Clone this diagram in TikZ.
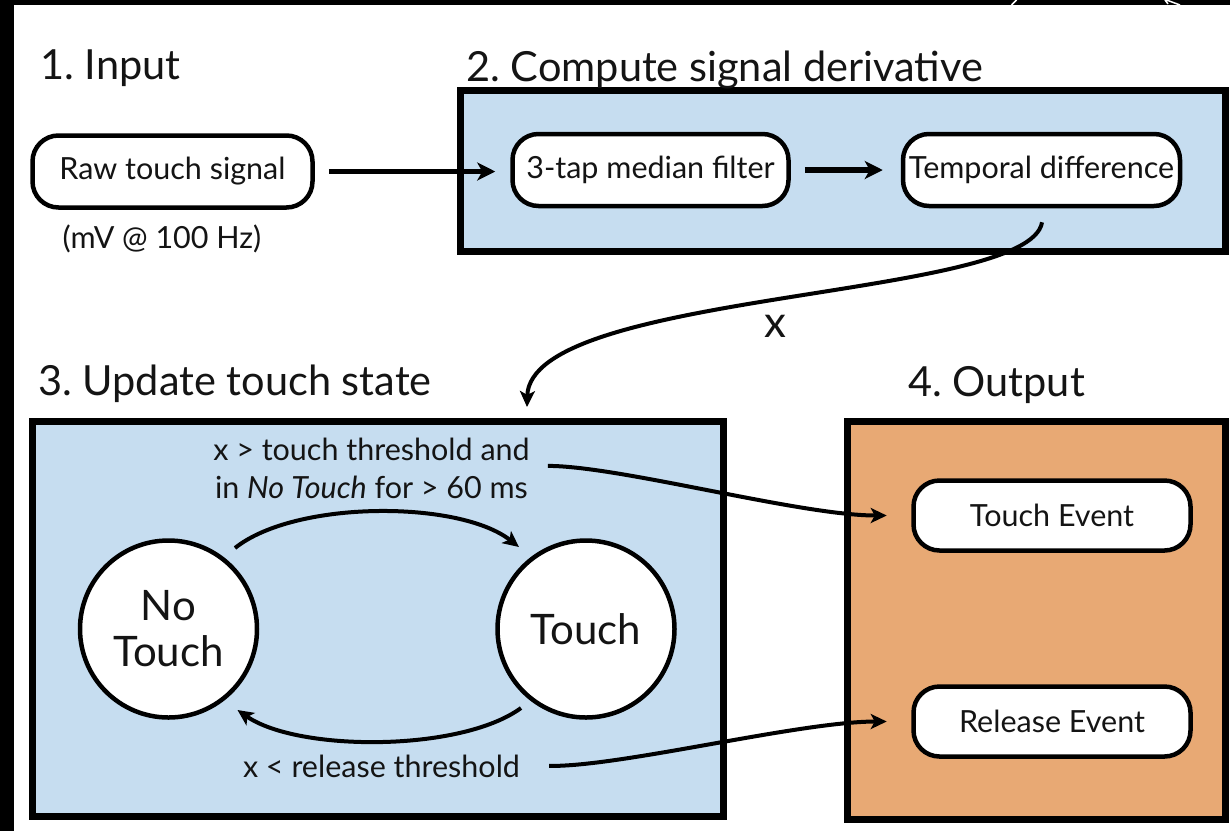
\documentclass[tikz,border=0pt]{standalone}
\usepackage{fontspec}
\setmainfont{Lato}
\frenchspacing
\usetikzlibrary{arrows.meta,calc}
\definecolor{paleblue}{RGB}{198,221,240}
\definecolor{paleorange}{RGB}{232,169,116}
\definecolor{ink}{RGB}{20,20,20}
\begin{document}
\begin{tikzpicture}[x=1pt,y=-1pt,
  panel/.style={draw=black, line width=7pt},
  proc/.style={draw=black, line width=4.5pt, rounded corners=26pt, fill=white,
    inner sep=0pt, minimum height=72pt, text=ink, font=\fontsize{30.5}{36}\selectfont},
  title/.style={anchor=base west, inner sep=0pt, text=ink, font=\fontsize{41.5}{48}\selectfont},
  note/.style={inner sep=0pt, text=ink, font=\fontsize{30.5}{38}\selectfont, align=center},
  state/.style={circle, draw=black, line width=4.5pt, fill=white, minimum size=177pt,
    inner sep=0pt, text=ink, align=center, font=\fontsize{42}{46}\selectfont},
  flow/.style={line width=5.5pt, -{Stealth[length=18pt,width=18pt,inset=5pt]}},
  curve/.style={line width=4pt, -{Stealth[length=16pt,width=15pt,inset=4pt]}},
  artifact/.style={draw=white, line width=1.5pt},
]
\useasboundingbox (0,0) rectangle (1230,831);
\fill[black] (0,0) rectangle (1230,831);
\fill[white] (14,5) rectangle (1230,831);
\draw[artifact] (1011.5,5) -- (1016.5,0);
\draw[artifact] (1165,0) -- (1168,4) (1166.5,0) -- (1180,5);

% panels
\draw[panel, fill=paleblue] (460.5,90.5) rectangle (1225.5,251.5);
\draw[panel, fill=paleblue] (32.5,421) rectangle (723,816);
\draw[panel, fill=paleorange] (847,421.5) rectangle (1225.5,819);

% titles
\node[title] (t1) at (40,79) {1. Input};
\node[title] (t2) at (466,81) {2. Compute signal derivative};
\node[title] (t3) at (38,395) {3. Update touch state};
\node[title] (t4) at (908,396) {4. Output};

% stage 1 and 2
\node[proc, minimum width=280pt] (raw) at (172.5,171.5) {Raw touch signal};
\node[anchor=base, inner sep=0pt, text=ink, font=\fontsize{30.5}{36}\selectfont] (unit) at (162,248) {(mV @ 100 Hz)};
\node[proc, minimum width=276pt] (med) at (650.5,170) {3-tap median filter};
\node[proc, minimum width=277pt] (td) at (1041.5,170) {Temporal difference};

% stage 3
\node[state] (nt) at (168.5,629) {No\\Touch};
\node[state] (tc) at (586,629) {Touch};
\node[note, anchor=base] (up) at (371.5,498) {x > touch threshold and\\in \textit{No Touch} for > 60 ms};
\node[note, anchor=base] (down) at (381.5,777) {x < release threshold};

% stage 4
\node[proc, minimum width=277pt, minimum height=70pt] (te) at (1052,515.5) {Touch Event};
\node[proc, minimum width=277pt, minimum height=70pt] (re) at (1052,721.5) {Release Event};

% x label
\node[anchor=base, inner sep=0pt, text=ink, font=\fontsize{44}{48}\selectfont] (xl) at (775,337) {x};

\coordinate (xin) at (527,407);

% connectors
\draw[flow, shorten <=14pt, shorten >=15pt] (raw.east) -- (raw.east -| med.west);
\draw[flow, shorten <=14pt, shorten >=18pt] (med.east) -- (td.west);
\draw[curve] ($(td.south)+(0.5,14)$) .. controls (1030,300) and (530,290) .. (xin);
\draw[curve] ($(nt.center)+(66.5,-81)$) .. controls (295,500) and (459,500) .. ($(tc.center)+(-67,-82)$);
\draw[curve] ($(tc.center)+(-65,79)$) .. controls (461,752) and (298,752) .. ($(nt.center)+(69,81)$);
\draw[curve] ($(up.east)+(18,-2)$) .. controls (620,466) and (800,515.5) .. ($(te.west)+(-24.5,0)$);
\draw[curve] ($(down.east)+(29,0)$) .. controls (620,767) and (800,721.5) .. ($(re.west)+(-24.5,0)$);
\end{tikzpicture}
\end{document}
